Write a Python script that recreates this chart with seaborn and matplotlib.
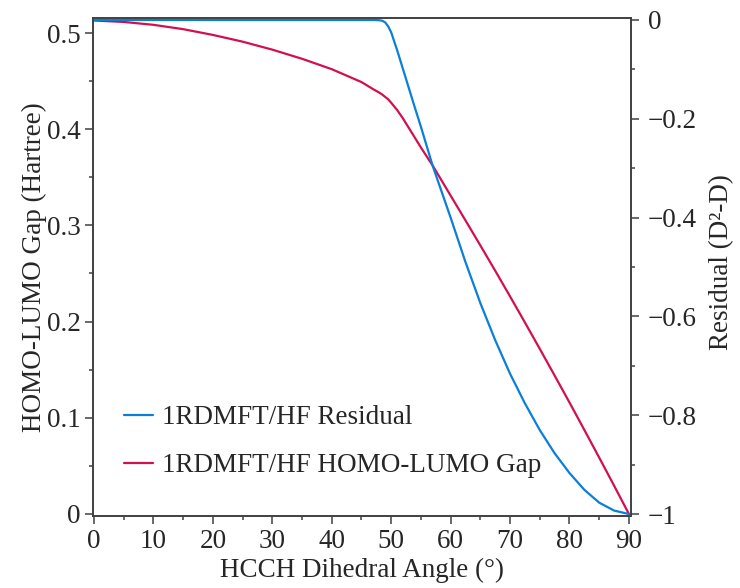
import matplotlib
matplotlib.use("Agg")
import matplotlib.pyplot as plt
from matplotlib.ticker import MultipleLocator, FuncFormatter
import seaborn as sns
import pandas as pd

# ---- data ----
angles = [0, 5, 10, 15, 20, 25, 30, 35, 40, 45, 47, 48, 48.5, 49, 49.5, 50, 51,
          52, 53, 54, 55, 57, 60, 62.5, 65, 67.5, 70, 72.5, 75, 77.5, 80, 82.5,
          85, 87.5, 90]
gap = [0.513, 0.5115, 0.5085, 0.504, 0.498, 0.491, 0.4827, 0.4732, 0.4624,
       0.449, 0.4415, 0.438, 0.436, 0.4335, 0.431, 0.4275, 0.420, 0.411, 0.401,
       0.391, 0.381, 0.362, 0.331, 0.3052, 0.2792, 0.2529, 0.2262, 0.1991,
       0.1717, 0.1439, 0.1159, 0.0874, 0.0586, 0.0295, 0.0]
residual = [0.0, 0.0, 0.0, 0.0, 0.0, 0.0, 0.0, 0.0, 0.0, 0.0, 0.0, -0.0005,
            -0.0015, -0.005, -0.013, -0.025, -0.061, -0.100, -0.139, -0.178,
            -0.216, -0.296, -0.400, -0.490, -0.573, -0.648, -0.716, -0.776,
            -0.830, -0.877, -0.917, -0.951, -0.977, -0.993, -1.0]
labels = ["1RDMFT/HF Residual", "1RDMFT/HF HOMO-LUMO Gap"]
x_label = "HCCH Dihedral Angle (°)"
left_label = "HOMO-LUMO Gap (Hartree)"
right_label = "Residual (D²-D)"

df = pd.DataFrame({"angle": angles, "gap": gap, "residual": residual})

sns.set_style("ticks")
plt.rcParams["font.family"] = ["Liberation Serif", "DejaVu Serif"]
plt.rcParams["axes.unicode_minus"] = True

BLUE = "#0A7FD9"
RED = "#D2104E"
SPINE = "#404040"
FS = 19.5

fig = plt.figure(figsize=(7.4, 5.88), dpi=100)
ax = fig.add_axes([93 / 740, 1 - 516 / 588, 538 / 740, 498 / 588])
ax2 = ax.twinx()

sns.lineplot(data=df, x="angle", y="residual", ax=ax2, color=BLUE, lw=1.6,
             label=labels[0], legend=False, sort=True)
sns.lineplot(data=df, x="angle", y="gap", ax=ax, color=RED, lw=1.6,
             label=labels[1], legend=False, sort=True)

ax.set_xlim(-0.17, 90.35)
ax.set_ylim(-0.0021, 0.5156)
ax2.set_ylim(-1.004, 0.004)

ax.xaxis.set_major_locator(MultipleLocator(10))
ax.xaxis.set_minor_locator(MultipleLocator(5))
ax.yaxis.set_major_locator(MultipleLocator(0.1))
ax.yaxis.set_minor_locator(MultipleLocator(0.05))
ax2.yaxis.set_major_locator(MultipleLocator(0.2))
ax2.yaxis.set_minor_locator(MultipleLocator(0.1))

def fmt(v, pos):
    if abs(v) < 1e-9:
        return "0"
    s = f"{v:.1f}"
    if s.endswith(".0"):
        s = s[:-2]
    return s.replace("-", "\u2212")

ax.yaxis.set_major_formatter(FuncFormatter(fmt))
ax2.yaxis.set_major_formatter(FuncFormatter(fmt))
ax.xaxis.set_major_formatter(FuncFormatter(lambda v, p: f"{int(round(v))}"))

for a in (ax, ax2):
    for s in a.spines.values():
        s.set_color(SPINE)
        s.set_linewidth(1.2)
    a.tick_params(which="major", length=6, width=1.1, color=SPINE,
                  labelsize=FS, pad=3, direction="out")
    a.tick_params(which="minor", length=3, width=1.1, color=SPINE,
                  direction="out")

ax.tick_params(axis="y", which="both", left=True, right=False)
ax2.tick_params(axis="y", which="both", right=True, left=False, pad=6)
ax.tick_params(axis="x", which="both", bottom=True, top=False)

ax.set_xlabel(x_label, fontsize=FS)
ax.set_ylabel(left_label, fontsize=FS)
ax2.set_ylabel(right_label, fontsize=FS, rotation=90)
ax.xaxis.set_label_coords(0.5, -0.084)
ax.yaxis.set_label_coords(-0.108, 0.5)
ax2.yaxis.set_label_coords(1.169, 0.51)
ax.xaxis.label.set_verticalalignment("top")
ax.yaxis.label.set_verticalalignment("center")
ax2.yaxis.label.set_verticalalignment("center")

h1, l1 = ax2.get_legend_handles_labels()
h2, l2 = ax.get_legend_handles_labels()
leg = ax2.legend(h1 + h2, l1 + l2, loc="center left",
                 bbox_to_anchor=(0.057, 0.149), frameon=False, fontsize=FS,
                 handlelength=1.1, handletextpad=0.3, labelspacing=0.85,
                 borderpad=0, borderaxespad=0)

fig.savefig("out.png", dpi=100)
